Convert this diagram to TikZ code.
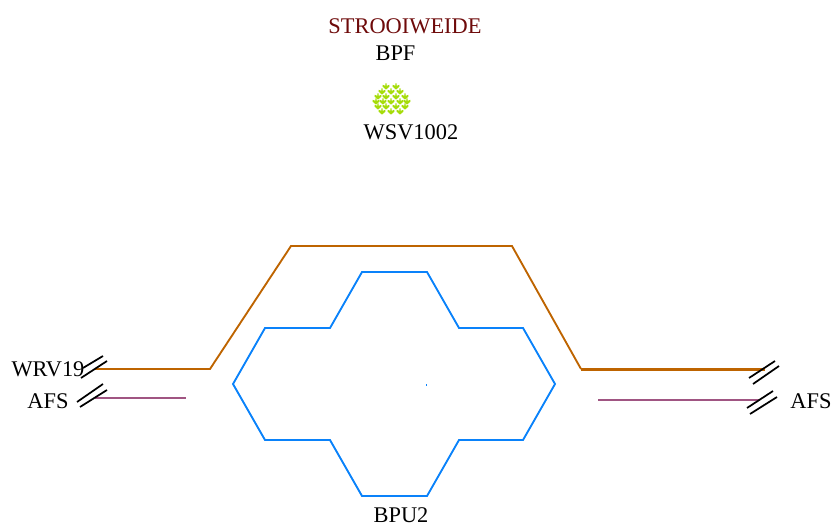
\documentclass[tikz,border=0pt]{standalone}
\usepackage{fontspec}
\setmainfont{Liberation Serif}
\definecolor{brn}{RGB}{190,100,0}
\definecolor{plum}{RGB}{160,85,130}
\definecolor{blu}{RGB}{10,130,250}
\definecolor{grn}{RGB}{165,220,10}
\definecolor{dred}{RGB}{110,10,10}
\tikzset{
  lbl/.style={inner sep=0pt,font=\fontsize{16.8}{17}\selectfont,text=black},
  route/.style={line width=1.4pt,line join=miter},
  tick/.style={draw=black,line width=1.3pt},
}
\newcommand{\leaf}[2]{\fill[grn] (#1-0.7,#2-3.5) -- (#1+0.7,#2-3.5) -- (#1+0.7,#2-1.2) -- (#1+3.4,#2-2.2) -- (#1+3.4,#2-0.3) -- (#1,#2+2.6) -- (#1-3.4,#2-0.3) -- (#1-3.4,#2-2.2) -- (#1-0.7,#2-1.2) -- cycle;}
\begin{document}
\begin{tikzpicture}[x=0.75pt,y=-0.75pt]
\useasboundingbox (0,0) rectangle (835,527);
\node[lbl,text=dred] (title) at (405,26) {STROOIWEIDE};
\node[lbl] (bpf) at (395.5,53) {BPF};
\node[lbl] (wsv) at (411,132) {WSV1002};
\node[lbl] (wrv) at (48,369) {WRV19};
\node[lbl] (afsl) at (48,401) {AFS};
\node[lbl] (afsr) at (811,401) {AFS};
\node[lbl] (bpu) at (401,515) {BPU2};
\foreach \x in {386,396} {\leaf{\x}{87}}
\foreach \x in {382,391,400} {\leaf{\x}{92}}
\foreach \x in {378,386,396,405} {\leaf{\x}{97}}
\foreach \x in {376,383,391,400,407} {\leaf{\x}{102}}
\foreach \x in {378,386,396,405} {\leaf{\x}{107}}
\foreach \x in {382,391,400} {\leaf{\x}{112}}
\draw[blu,line width=1.4pt,line join=miter] (233,384) -- (265,328) -- (330,328) -- (362,272) -- (427,272) -- (459,328) -- (523,328) -- (555,384) -- (523,440) -- (459,440) -- (427,496) -- (362,496) -- (330,440) -- (265,440) -- cycle;
\fill[blu] (425.5,384) rectangle (427,385.5);
\draw[brn,route] (95,369) -- (210,369) -- (291,246) -- (512,246) -- (581,369);
\draw[brn,line width=2.6pt] (581,369.5) -- (765,369.5);
\draw[plum,line width=1.6pt] (95,398) -- (186,398);
\draw[plum,line width=1.6pt] (598,400) -- (760,400);
\draw[tick] (83,368) -- (103,356);
\draw[tick] (81,378) -- (107,361);
\draw[tick] (77,402) -- (103,384);
\draw[tick] (80,407) -- (107,390);
\draw[tick] (749,378) -- (775,361);
\draw[tick] (753,384) -- (779,366);
\draw[tick] (747,408) -- (773,391);
\draw[tick] (750,414) -- (777,397);
\end{tikzpicture}
\end{document}
